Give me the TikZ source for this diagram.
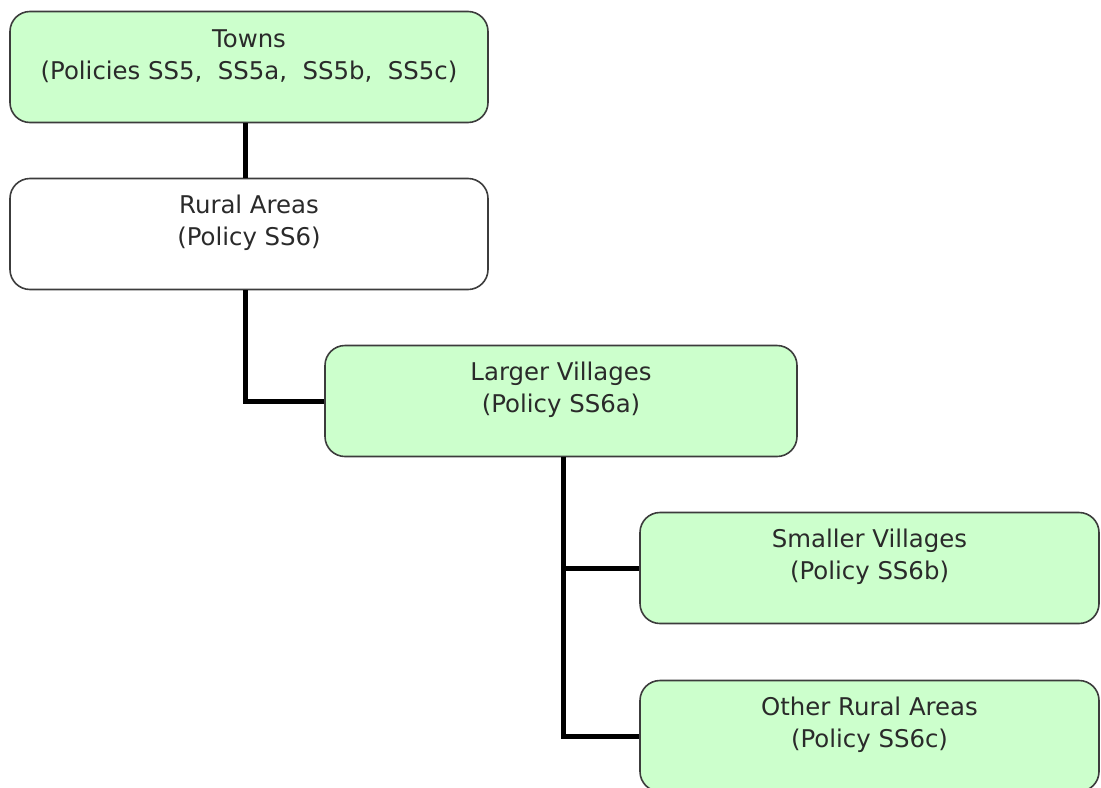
\documentclass[tikz,border=0pt]{standalone}
\usepackage{fontspec}
\setmainfont{DejaVu Sans}
\usepackage{tikz}
\usetikzlibrary{positioning}
\definecolor{boxgreen}{HTML}{CCFFCC}
\definecolor{boxline}{HTML}{3C3C3C}
\definecolor{boxtext}{HTML}{2A2A2A}
\tikzstyle{level} = [
    rectangle, 
    rounded corners=10pt, 
    minimum width=239pt, minimum height=55.5pt,
    draw=boxline, line width=0.8pt, fill=boxgreen]
\tikzstyle{plain} = [level, fill=white]
\tikzstyle{caption} = [
    align=center, text=boxtext, yshift=5.5pt,
    font=\fontsize{12.2}{16}\selectfont]
\tikzstyle{link} = [line width=2.5pt, draw=black]

\begin{document}
\begin{tikzpicture}[x=0.5pt, y=-0.5pt, node distance=83.5pt]
        \useasboundingbox (0,0) rectangle (1101,787);

        \node (towns) [level] at (249,67) {};
        \node (rural) [plain, below of=towns] {};

        \node (larger) [level, below of=rural, xshift=156pt, minimum width=236pt] {};
        \node (smaller) [level, below of=larger, xshift=154.25pt, minimum width=229.5pt] {};
        \node (other) [level, below of=smaller, node distance=84pt, minimum width=229.5pt] {};

        % texts
        \path (towns) node [caption] {Towns\\(Policies SS5,\ \ SS5a,\ \ SS5b,\ \ SS5c)};
        \path (rural) node [caption] {Rural Areas\\(Policy SS6)};
        \path (larger) node [caption] {Larger Villages\\(Policy SS6a)};
        \path (smaller) node [caption] {Smaller Villages\\(Policy SS6b)};
        \path (other) node [caption] {Other Rural Areas\\(Policy SS6c)};

        \draw [link] ([xshift=-2pt]towns.south) -- ([xshift=-2pt]rural.north);
        \draw [link] ([xshift=-2pt]rural.south) |- (larger.west);
        \draw [link] ([xshift=1pt]larger.south) |- (smaller.west);
        \draw [link] ([xshift=1pt]larger.south) |- (other.west);
    \end{tikzpicture}
\end{document}
